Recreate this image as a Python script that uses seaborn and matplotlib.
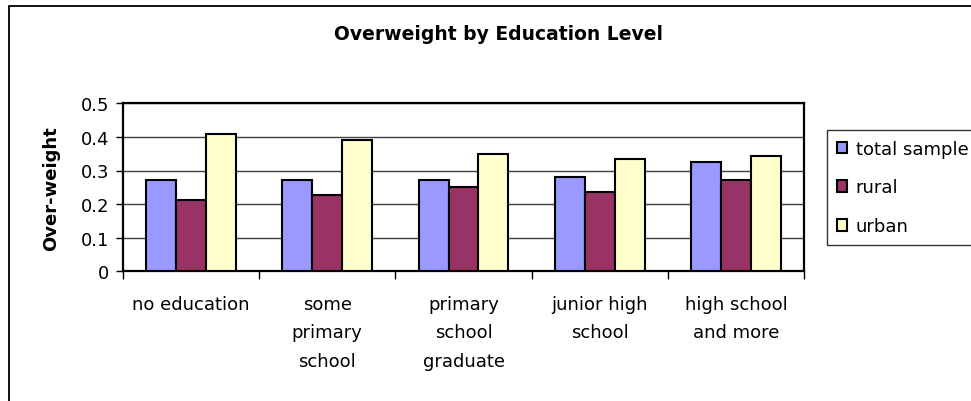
import matplotlib
matplotlib.use("Agg")
import matplotlib.pyplot as plt
from matplotlib.patches import Rectangle
import numpy as np
import pandas as pd
import seaborn as sns

# Share of overweight respondents by education level
education = ["no education", "some\nprimary\nschool", "primary\nschool\ngraduate",
             "junior high\nschool", "high school\nand more"]
total_sample = [0.273, 0.273, 0.273, 0.280, 0.326]
rural = [0.212, 0.226, 0.250, 0.237, 0.273]
urban = [0.409, 0.392, 0.349, 0.334, 0.344]
series_names = ["total sample", "rural", "urban"]
y_ticks = [0, 0.1, 0.2, 0.3, 0.4, 0.5]

df = pd.DataFrame({
    "education": education * 3,
    "area": np.repeat(series_names, len(education)),
    "overweight": total_sample + rural + urban,
})

sns.set_theme(style="white")
plt.rcParams["font.family"] = ["DejaVu Sans"]
plt.rcParams["text.color"] = "black"
plt.rcParams["axes.labelcolor"] = "black"
plt.rcParams["xtick.color"] = "black"
plt.rcParams["ytick.color"] = "black"

fig = plt.figure(figsize=(9.71, 4.02), dpi=100)
ax = fig.add_axes([123 / 971, 1 - 272.3 / 402, 681 / 971, 168 / 402])

palette = {"total sample": "#9999FF", "rural": "#993366", "urban": "#FFFFCC"}
sns.barplot(data=df, x="education", y="overweight", hue="area", order=education,
            hue_order=series_names, palette=palette, saturation=1, width=0.66,
            edgecolor="black", linewidth=1.5, ax=ax, zorder=3)

ax.set_ylim(0, 0.5)
ax.set_yticks(y_ticks)
ax.set_yticklabels(["0", "0.1", "0.2", "0.3", "0.4", "0.5"])
ax.yaxis.grid(True, color="#404040", linewidth=1.0, zorder=0)
ax.xaxis.grid(False)
ax.set_axisbelow(True)

for side in ["top", "right", "left", "bottom"]:
    ax.spines[side].set_visible(True)
    ax.spines[side].set_color("black")
    ax.spines[side].set_linewidth(1.6)

ax.tick_params(axis="y", which="major", direction="out", length=5, width=1,
               color="black", labelsize=13, pad=5, left=True)
ax.tick_params(axis="x", which="major", length=0, labelsize=13, pad=17)
ax.set_xticks(np.arange(-0.5, len(education), 1.0), minor=True)
ax.tick_params(axis="x", which="minor", direction="out", length=6, width=1,
               color="black", bottom=True)
for lab in ax.get_xticklabels():
    lab.set_linespacing(1.75)
    lab.set_multialignment("center")

ax.set_xlabel("")
ax.set_ylabel("Over-weight", fontsize=13, fontweight="bold")
ax.yaxis.set_label_coords(-0.093, 0.5)

fig.suptitle("Overweight by Education Level", x=0.513, y=1 - 35 / 402,
             va="center", fontsize=13.5, fontweight="bold", color="black")

sns.move_legend(ax, loc="upper left", bbox_to_anchor=(826.7 / 971, 1 - 130.7 / 402),
                bbox_transform=fig.transFigure, borderaxespad=0, title=None,
                frameon=True, fancybox=False, framealpha=1, edgecolor="#333333",
                fontsize=13, handlelength=0.6, handleheight=0.6, handletextpad=0.45,
                labelspacing=1.15, borderpad=0.55)
leg = ax.get_legend()
leg.get_frame().set_linewidth(1.0)
for h in leg.get_patches():
    h.set_edgecolor("black")
    h.set_linewidth(1.5)
for t in leg.get_texts():
    t.set_color("black")

# Chart area frame
fig.patches.append(Rectangle((9 / 971, -0.1), 2.0, 1.1 - 7 / 402, fill=False,
                             edgecolor="black", linewidth=1.3,
                             transform=fig.transFigure, figure=fig))

fig.savefig("out.png", dpi=100)
